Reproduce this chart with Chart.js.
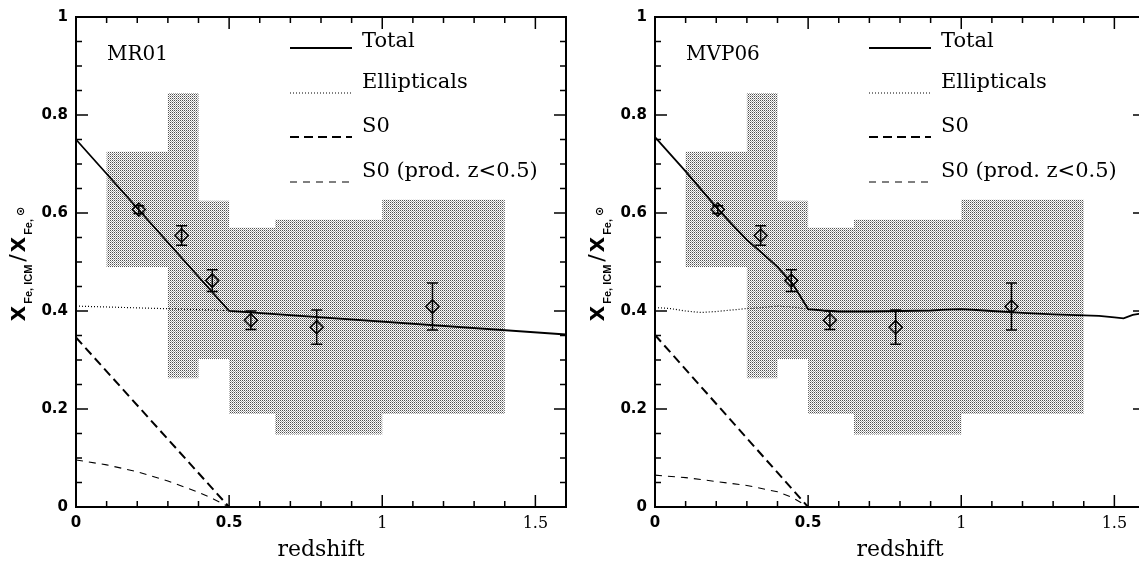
<!DOCTYPE html>
<html>
<head>
<meta charset="utf-8">
<script src="https://cdn.jsdelivr.net/npm/chart.js@4.4.1/dist/chart.umd.min.js"></script>
<style>
  html, body { margin: 0; padding: 0; background: #fff; overflow: hidden; }
  #wrap { position: relative; width: 1139px; height: 565px; overflow: hidden; }
  canvas { position: absolute; top: 0; }
  #c1 { left: 0; }
  #c2 { left: 580px; }
</style>
</head>
<body>
<div id="wrap">
  <canvas id="c1" width="580" height="565"></canvas>
  <canvas id="c2" width="580" height="565"></canvas>
</div>
<script>
// observed Fe abundances (diamonds with error bars)
var obsZ   = [0.205, 0.345, 0.445, 0.571, 0.786, 1.164];
var obsFe  = [0.607, 0.554, 0.462, 0.381, 0.367, 0.409];
var obsErr = [0.008, 0.020, 0.022, 0.019, 0.035, 0.048];

// shaded redshift bins
var binEdges = [0.1, 0.3, 0.4, 0.5, 0.65, 1.0, 1.4];
var binHigh  = [0.725, 0.845, 0.625, 0.570, 0.586, 0.627];
var binLow   = [0.490, 0.263, 0.302, 0.190, 0.148, 0.190];

// MR01 model curves
var mrTotalZ = [0, 0.5, 1.6];
var mrTotal  = [0.750, 0.400, 0.352];
var mrEllZ   = [0, 0.5];
var mrEll    = [0.410, 0.401];
var mrS0Z    = [0, 0.5];
var mrS0     = [0.346, 0];
var mrS0pZ   = [0, 0.1, 0.2, 0.3, 0.4, 0.45, 0.5];
var mrS0p    = [0.096, 0.086, 0.072, 0.053, 0.030, 0.016, 0];

// MVP06 model curves
var mvTotalZ = [0, 0.1, 0.2, 0.25, 0.3, 0.35, 0.4, 0.45, 0.5, 0.55, 0.6, 0.7, 0.8, 0.9, 0.95, 1.0, 1.05, 1.1, 1.2, 1.3, 1.4, 1.45, 1.5, 1.53, 1.56, 1.6];
var mvTotal  = [0.755, 0.685, 0.612, 0.578, 0.545, 0.518, 0.490, 0.455, 0.404, 0.401, 0.399, 0.399, 0.400, 0.401, 0.403, 0.404, 0.402, 0.400, 0.396, 0.393, 0.391, 0.390, 0.387, 0.385, 0.392, 0.396];
var mvEllZ   = [0, 0.05, 0.1, 0.15, 0.2, 0.25, 0.3, 0.35, 0.4, 0.45, 0.5];
var mvEll    = [0.407, 0.405, 0.400, 0.397, 0.399, 0.402, 0.405, 0.407, 0.410, 0.408, 0.404];
var mvS0Z    = [0, 0.5];
var mvS0     = [0.351, 0];
var mvS0pZ   = [0, 0.1, 0.2, 0.3, 0.4, 0.45, 0.5];
var mvS0p    = [0.065, 0.060, 0.052, 0.044, 0.031, 0.019, 0];

// axis ticks
var xTickVals   = [0, 0.5, 1, 1.5];
var xTickLabels = ['0', '0.5', '1', '1.5'];
var yTickVals   = [0, 0.2, 0.4, 0.6, 0.8, 1];
var yTickLabels = ['0', '0.2', '0.4', '0.6', '0.8', '1'];

var legendNames = ['Total', 'Ellipticals', 'S0', 'S0 (prod. z<0.5)'];

function pts(xs, ys) {
    return xs.map(function(x, i) { return {x: x, y: ys[i]}; });
}

// closed outline of the stepped bins (top left->right, bottom right->left)
function binOutline() {
    var out = [];
    for (var i = 0; i < binHigh.length; i++) {
        out.push({x: binEdges[i], y: binHigh[i]});
        out.push({x: binEdges[i + 1], y: binHigh[i]});
    }
    for (var j = binLow.length - 1; j >= 0; j--) {
        out.push({x: binEdges[j + 1], y: binLow[j]});
        out.push({x: binEdges[j], y: binLow[j]});
    }
    return out;
}

function stipple() {
    var c = document.createElement('canvas');
    c.width = 2; c.height = 2;
    var g = c.getContext('2d');
    g.fillStyle = '#fff'; g.fillRect(0, 0, 2, 2);
    g.fillStyle = '#505050'; g.fillRect(0, 0, 1, 1);
    g.fillStyle = '#a8a8a8'; g.fillRect(1, 1, 1, 1);
    return g.createPattern(c, 'repeat');
}

// frame + inward ticks on all four sides
var frameTicks = {
    id: 'frameTicks',
    afterDraw: function(chart) {
        var ctx = chart.ctx, a = chart.chartArea;
        var xs = chart.scales.x, ys = chart.scales.y;
        ctx.save();
        ctx.strokeStyle = '#000';
        ctx.lineWidth = 1.5;
        ctx.beginPath();
        for (var i = 0; i <= 16; i++) {
            var px = xs.getPixelForValue(i / 10);
            var len = (i % 5 === 0) ? 12 : 6;
            ctx.moveTo(px, a.bottom); ctx.lineTo(px, a.bottom - len);
            ctx.moveTo(px, a.top); ctx.lineTo(px, a.top + len);
        }
        for (var k = 0; k <= 20; k++) {
            var py = ys.getPixelForValue(k / 20);
            var l2 = (k % 4 === 0) ? 12 : 6;
            ctx.moveTo(a.left, py); ctx.lineTo(a.left + l2, py);
            ctx.moveTo(a.right, py); ctx.lineTo(a.right - l2, py);
        }
        ctx.stroke();
        ctx.lineWidth = 2;
        ctx.strokeRect(a.left, a.top, a.right - a.left, a.bottom - a.top);
        ctx.restore();
    }
};

// vertical error bars with caps
var errorBars = {
    id: 'errorBars',
    afterDatasetsDraw: function(chart) {
        var ctx = chart.ctx, xs = chart.scales.x, ys = chart.scales.y;
        ctx.save();
        ctx.strokeStyle = '#000';
        ctx.lineWidth = 1.5;
        ctx.beginPath();
        for (var i = 0; i < obsZ.length; i++) {
            var px = xs.getPixelForValue(obsZ[i]);
            var hi = ys.getPixelForValue(obsFe[i] + obsErr[i]);
            var lo = ys.getPixelForValue(obsFe[i] - obsErr[i]);
            ctx.moveTo(px, hi); ctx.lineTo(px, lo);
            ctx.moveTo(px - 5.5, hi); ctx.lineTo(px + 5.5, hi);
            ctx.moveTo(px - 5.5, lo); ctx.lineTo(px + 5.5, lo);
        }
        ctx.stroke();
        ctx.restore();
    }
};

// legend, model name and y title
var annotations = {
    id: 'annotations',
    afterDraw: function(chart, args, opts) {
        var ctx = chart.ctx, a = chart.chartArea;
        ctx.save();
        ctx.fillStyle = '#000';
        ctx.textBaseline = 'alphabetic';
        ctx.textAlign = 'left';
        ctx.font = '20px "DejaVu Serif"';
        ctx.fillText(opts.name, a.left + 31, 60);

        var lineY = [48, 93, 137, 182];
        var textY = [47, 88, 132, 177];
        ctx.font = '21px "DejaVu Serif"';
        chart.data.datasets.forEach(function(ds) {
            if (ds.legendRow === undefined) return;
            var r = ds.legendRow;
            ctx.save();
            ctx.strokeStyle = ds.borderColor;
            ctx.lineWidth = ds.borderWidth;
            ctx.setLineDash(ds.borderDash || []);
            ctx.beginPath();
            ctx.moveTo(a.left + 214, lineY[r]);
            ctx.lineTo(a.left + 276, lineY[r]);
            ctx.stroke();
            ctx.restore();
            ctx.fillText(legendNames[r], a.left + 286, textY[r]);
        });

        // y title: X_{Fe, ICM} / X_{Fe, sun}
        var parts = [
            {t: 'X', f: 'bold 20px "DejaVu Sans"', dy: 0, gap: 2},
            {t: 'Fe, ICM', f: 'bold 11px "Liberation Sans"', dy: 7, gap: 3},
            {t: '/', f: '22px "DejaVu Sans"', dy: 0, gap: 2},
            {t: 'X', f: 'bold 20px "DejaVu Sans"', dy: 0, gap: 2},
            {t: 'Fe,', f: 'bold 11px "Liberation Sans"', dy: 7, gap: 3},
            {t: '\u2299', f: 'bold 11px "DejaVu Sans"', dy: -1, gap: 0}
        ];
        var total = 0;
        parts.forEach(function(p) {
            ctx.font = p.f;
            p.w = ctx.measureText(p.t).width;
            total += p.w + p.gap;
        });
        ctx.translate(a.left - 51, (a.top + a.bottom) / 2 + 2);
        ctx.rotate(-Math.PI / 2);
        var x = -total / 2;
        parts.forEach(function(p) {
            ctx.font = p.f;
            ctx.fillText(p.t, x, p.dy);
            x += p.w + p.gap;
        });
        ctx.restore();
    }
};

var sansTick = {family: '"DejaVu Sans"', size: 15, weight: 'bold'};
var serifTick = {family: '"DejaVu Serif"', size: 16, weight: 'normal'};

function makeChart(id, name, m, yAxisW, padRight) {
    var ctx = document.getElementById(id).getContext('2d');
    return new Chart(ctx, {
        type: 'line',
        data: {
            datasets: [
                {
                    data: pts(m.totZ, m.tot), legendRow: 0,
                    borderColor: '#000', borderWidth: 1.8, pointRadius: 0, order: 2
                },
                {
                    data: pts(m.ellZ, m.ell), legendRow: 1,
                    borderColor: '#000', borderWidth: 1.2, borderDash: [1, 2], pointRadius: 0, order: 3
                },
                {
                    data: pts(m.s0Z, m.s0), legendRow: 2,
                    borderColor: '#000', borderWidth: 2, borderDash: [9, 5], pointRadius: 0, order: 3
                },
                {
                    data: pts(m.s0pZ, m.s0p), legendRow: 3,
                    borderColor: '#000', borderWidth: 1.1, borderDash: [7, 6], pointRadius: 0, order: 3
                },
                {
                    data: pts(obsZ, obsFe), showLine: false,
                    pointStyle: 'rectRot', pointRadius: 6.5, pointBorderWidth: 1.5,
                    pointBorderColor: '#000', pointBackgroundColor: 'rgba(0,0,0,0)', order: 0
                },
                {
                    data: binOutline(), fill: 'shape', backgroundColor: stipple(),
                    borderColor: 'rgba(0,0,0,0)', borderWidth: 0, pointRadius: 0, order: 10
                }
            ]
        },
        options: {
            responsive: false,
            animation: false,
            events: [],
            devicePixelRatio: 1,
            layout: {padding: {top: 7, right: padRight, left: 0, bottom: 0}},
            plugins: {
                legend: {display: false},
                tooltip: {enabled: false},
                annotations: {name: name}
            },
            scales: {
                x: {
                    type: 'linear', min: 0, max: 1.6,
                    grid: {display: false, drawTicks: false},
                    border: {display: false},
                    afterBuildTicks: function(s) { s.ticks = xTickVals.map(function(v) { return {value: v}; }); },
                    afterFit: function(s) { s.height = 58; },
                    ticks: {
                        padding: 7, color: '#000', maxRotation: 0, autoSkip: false,
                        font: function(c) { return (c.tick && c.tick.value >= 1) ? serifTick : sansTick; },
                        callback: function(v) { return xTickLabels[xTickVals.indexOf(v)]; }
                    },
                    title: {
                        display: true, text: 'redshift', color: '#000',
                        font: {family: '"DejaVu Serif"', size: 22},
                        padding: {top: 0, bottom: 2}
                    }
                },
                y: {
                    type: 'linear', min: 0, max: 1,
                    grid: {display: false, drawTicks: false},
                    border: {display: false},
                    afterBuildTicks: function(s) { s.ticks = yTickVals.map(function(v) { return {value: v}; }); },
                    afterFit: function(s) { s.width = yAxisW; },
                    ticks: {
                        padding: 8, color: '#000', font: sansTick,
                        callback: function(v) { return yTickLabels[yTickVals.indexOf(v)]; }
                    }
                }
            }
        },
        plugins: [errorBars, annotations, frameTicks]
    });
}

makeChart('c1', 'MR01', {
    totZ: mrTotalZ, tot: mrTotal, ellZ: mrEllZ, ell: mrEll,
    s0Z: mrS0Z, s0: mrS0, s0pZ: mrS0pZ, s0p: mrS0p
}, 76, 14);

makeChart('c2', 'MVP06', {
    totZ: mvTotalZ, tot: mvTotal, ellZ: mvEllZ, ell: mvEll,
    s0Z: mvS0Z, s0: mvS0, s0pZ: mvS0pZ, s0p: mvS0p
}, 75, 15);
</script>
</body>
</html>
